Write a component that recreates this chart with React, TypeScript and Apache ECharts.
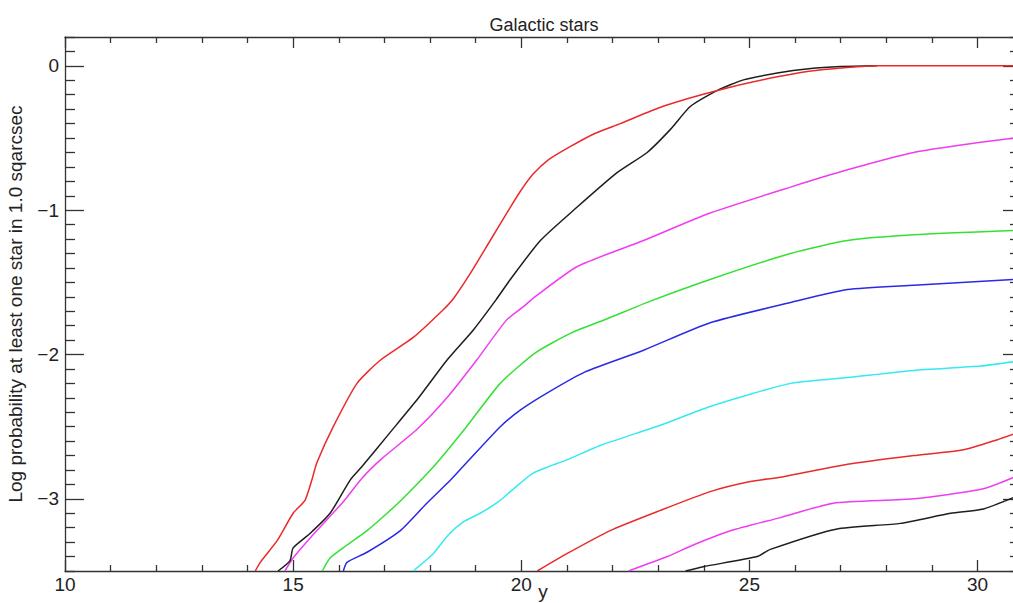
import React, { useEffect, useRef } from "react";
import * as echarts from "echarts";

const TITLE = "Galactic stars";
const X_NAME = "y";
const Y_NAME = "Log probability at least one star in 1.0 sqarcsec";

const X_MIN = 10;
const X_MAX = 30.8;
const Y_MIN = -3.5;
const Y_MAX = 0.2;

const X_MAJOR = [10, 15, 20, 25, 30];
const Y_MAJOR = [-3, -2, -1, 0];

const red1 = [[14.17,-3.5],[14.28,-3.44],[14.65,-3.29],[15.0,-3.1],[15.26,-3.01],[15.41,-2.87],[15.52,-2.75],[15.88,-2.5],[16.4,-2.2],[16.91,-2.04],[17.64,-1.88],[18.29,-1.69],[18.52,-1.61],[18.88,-1.44],[19.32,-1.21],[19.76,-0.98],[20.0,-0.86],[20.26,-0.75],[20.6,-0.65],[21.07,-0.56],[21.6,-0.47],[22.17,-0.40],[23.11,-0.28],[24.3,-0.17],[25.61,-0.076],[26.5,-0.03],[27.8,0],[30.8,0]];
const black1 = [[14.67,-3.5],[14.93,-3.43],[15.0,-3.34],[15.37,-3.24],[15.81,-3.1],[16.25,-2.87],[16.5,-2.78],[17.1,-2.55],[17.75,-2.3],[18.37,-2.04],[18.95,-1.83],[19.45,-1.62],[19.76,-1.48],[20.42,-1.21],[21.22,-0.98],[22.1,-0.74],[22.76,-0.60],[23.27,-0.44],[23.71,-0.28],[24.3,-0.17],[24.87,-0.097],[25.61,-0.05],[26.3,-0.02],[27.0,-0.005],[27.8,0]];
const magenta1 = [[14.82,-3.5],[15.0,-3.41],[15.52,-3.22],[16.1,-3.02],[16.5,-2.86],[16.95,-2.72],[17.71,-2.52],[18.37,-2.3],[19.02,-2.04],[19.68,-1.76],[20.04,-1.67],[20.3,-1.6],[21.23,-1.39],[22.68,-1.21],[24.14,-1.02],[25.9,-0.84],[27.15,-0.72],[28.6,-0.60],[30.07,-0.53],[30.8,-0.50]];
const green1 = [[15.64,-3.5],[15.81,-3.41],[16.18,-3.32],[16.62,-3.22],[17.06,-3.1],[17.4,-3.0],[18.07,-2.78],[18.8,-2.5],[19.54,-2.2],[20.3,-1.99],[21.1,-1.85],[21.9,-1.75],[22.83,-1.63],[24.14,-1.48],[25.9,-1.30],[27.15,-1.21],[28.6,-1.17],[30.8,-1.14]];
const blue1 = [[16.1,-3.5],[16.18,-3.44],[16.62,-3.37],[17.35,-3.22],[17.93,-3.03],[18.45,-2.87],[18.8,-2.75],[19.54,-2.5],[20.0,-2.38],[20.6,-2.26],[21.4,-2.12],[22.68,-1.97],[24.14,-1.78],[25.9,-1.64],[27.15,-1.55],[28.6,-1.52],[30.8,-1.48]];
const cyan1 = [[17.63,-3.5],[18.07,-3.38],[18.4,-3.25],[18.73,-3.16],[19.1,-3.1],[19.54,-3.01],[19.76,-2.95],[20.27,-2.82],[21.0,-2.73],[21.73,-2.63],[23.05,-2.49],[24.14,-2.36],[25.9,-2.2],[27.15,-2.16],[28.6,-2.11],[30.07,-2.08],[30.8,-2.05]];
const red2 = [[20.35,-3.5],[21.0,-3.38],[21.95,-3.22],[23.05,-3.08],[24.14,-2.95],[25.02,-2.88],[25.68,-2.85],[27.15,-2.76],[28.6,-2.70],[29.7,-2.66],[30.44,-2.59],[30.8,-2.55]];
const magenta2 = [[22.35,-3.5],[23.2,-3.4],[23.77,-3.32],[24.6,-3.22],[25.68,-3.13],[26.84,-3.03],[28.6,-3.0],[30.13,-2.93],[30.8,-2.85]];
const black2 = [[23.6,-3.5],[23.99,-3.47],[25.17,-3.40],[25.46,-3.35],[26.9,-3.21],[28.31,-3.17],[29.41,-3.10],[30.13,-3.07],[30.8,-2.99]];

const SERIES = [
  { name: "black2", data: black2, color: "#1e1e1e" },
  { name: "magenta2", data: magenta2, color: "#f03cf0" },
  { name: "red2", data: red2, color: "#ea2a2a" },
  { name: "cyan1", data: cyan1, color: "#34eaf0" },
  { name: "blue1", data: blue1, color: "#2a2ae4" },
  { name: "green1", data: green1, color: "#34e034" },
  { name: "magenta1", data: magenta1, color: "#f03cf0" },
  { name: "black1", data: black1, color: "#1e1e1e" },
  { name: "red1", data: red1, color: "#ea2a2a" },
];

const FONT = "'Liberation Sans', Arial, sans-serif";
const AX = "#333";
const FS = 19;

function minorValues(min: number, max: number, step: number, majors: number[]) {
  const out: number[] = [];
  const n = Math.round((max - min) / step);
  for (let i = 0; i <= n; i++) {
    const v = Math.round((min + i * step) * 1000) / 1000;
    if (!majors.includes(v)) out.push(v);
  }
  return out;
}

export default function App() {
  const ref = useRef<HTMLDivElement>(null);
  useEffect(() => {
    if (!ref.current) return;
    const chart = echarts.init(ref.current, undefined, { renderer: "svg" });
    const xMinor = minorValues(10, 30, 1, X_MAJOR);
    const yMinor = minorValues(-3.5, 0.2, 0.1, Y_MAJOR);
    const xBase = (position: string, major: boolean, show: boolean) => ({
      type: "value",
      min: X_MIN,
      max: X_MAX,
      position,
      splitLine: { show: false },
      axisLine: { show, onZero: false, lineStyle: { color: AX, width: 1.3 } },
      axisTick: {
        show: true,
        inside: true,
        length: major ? 11 : 6,
        customValues: major ? X_MAJOR : xMinor,
        lineStyle: { color: AX, width: 1.3 },
      },
      axisLabel: { show: false },
    });
    const yBase = (position: string, major: boolean, show: boolean, len: number) => ({
      type: "value",
      min: Y_MIN,
      max: Y_MAX,
      position,
      splitLine: { show: false },
      axisLine: { show, onZero: false, lineStyle: { color: AX, width: 1.3 } },
      axisTick: {
        show: true,
        inside: true,
        length: len,
        customValues: major ? Y_MAJOR : yMinor,
        lineStyle: { color: AX, width: 1.3 },
      },
      axisLabel: { show: false },
    });
    const xMain: any = xBase("bottom", true, true);
    xMain.axisLabel = {
      show: true,
      customValues: X_MAJOR,
      margin: 4,
      fontFamily: FONT,
      fontSize: FS,
      color: "#222",
    };
    const yMain: any = yBase("left", true, true, 19);
    yMain.axisLabel = {
      show: true,
      customValues: Y_MAJOR,
      margin: 6,
      fontFamily: FONT,
      fontSize: FS,
      color: "#222",
      formatter: (v: number) => (v === 0 ? "0" : (v < 0 ? "\u2212" : "") + Math.abs(v)),
    };
    yMain.name = Y_NAME;
    yMain.nameLocation = "middle";
    yMain.nameGap = 40;
    yMain.nameTextStyle = { fontFamily: FONT, fontSize: FS, color: "#222" };

    chart.setOption({
      animation: false,
      backgroundColor: "#fff",
      title: {
        text: TITLE,
        left: 539,
        top: 11,
        textAlign: "center",
        textStyle: { fontFamily: FONT, fontSize: 18, fontWeight: "normal", color: "#222" },
      },
      graphic: [
        {
          type: "text",
          x: 543,
          y: 582,
          style: {
            text: X_NAME,
            fontFamily: FONT,
            fontSize: FS,
            fill: "#222",
            align: "center",
            verticalAlign: "top",
          },
        },
      ],
      grid: { left: 65, top: 37, width: 949, height: 534, containLabel: false, outerBoundsMode: "none" },
      xAxis: [
        xMain,
        xBase("bottom", false, false),
        xBase("top", true, true),
        xBase("top", false, false),
      ],
      yAxis: [
        yMain,
        yBase("left", false, false, 10),
        yBase("right", true, true, 11),
        yBase("right", false, false, 4),
      ],
      series: SERIES.map((s) => ({
        name: s.name,
        type: "line",
        xAxisIndex: 0,
        yAxisIndex: 0,
        data: s.data,
        showSymbol: false,
        symbol: "none",
        clip: true,
        smooth: 0.2,
        lineStyle: { color: s.color, width: 1.5 },
        itemStyle: { color: s.color },
      })),
    });
    return () => chart.dispose();
  }, []);
  return (
    <div
      ref={ref}
      style={{ position: "fixed", left: 0, top: 0, width: 1013, height: 603, background: "#fff" }}
    />
  );
}
